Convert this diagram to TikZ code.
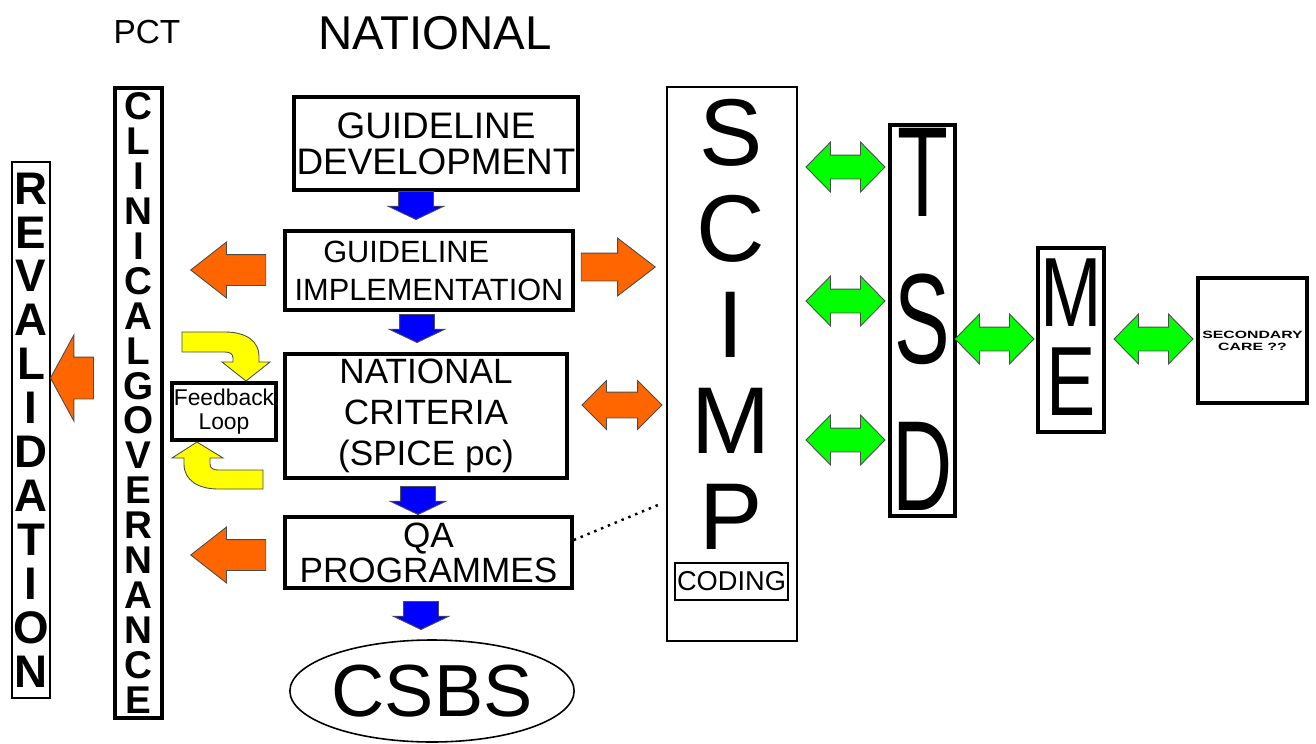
\documentclass[tikz,border=0pt]{standalone}
\usepackage{fontspec}
\setmainfont{Liberation Sans}
\usepackage{graphicx}
\usetikzlibrary{
    shapes.geometric,
    shapes.arrows,
    positioning
}
\def\pxu{0.2mm}
\newcommand{\squeeze}[2]{\scalebox{#1}[1]{#2}}
\definecolor{arrorange}{HTML}{FF6600}
\definecolor{arrgreen}{HTML}{00FF00}
\definecolor{arrblue}{HTML}{0000FF}
\definecolor{arryellow}{HTML}{FFFF00}
\tikzset{
    box/.style={
        rectangle,
        draw=black,
        line width=2pt,
        align=center,
        inner sep=0pt
    },
    letters/.style={
        align=center,
        inner sep=0pt
    },
    blockarrow/.style={
        single arrow,
        draw=black!70,
        line width=0.5pt,
        inner xsep=0pt,
        minimum width=0pt,
        anchor=tip
    },
    dblarrow/.style={
        double arrow,
        draw=black!70,
        line width=0.5pt,
        inner xsep=0pt,
        minimum width=0pt
    },
    bluedown/.style={
        blockarrow,
        fill=arrblue,
        shape border rotate=270,
        minimum height=28*\pxu,
        inner xsep=17*\pxu,
        inner ysep=0pt,
        single arrow head extend=10.5*\pxu,
        single arrow tip angle=129
    },
    orangeleft/.style={
        blockarrow,
        fill=arrorange,
        shape border rotate=180,
        minimum height=75*\pxu,
        inner ysep=15*\pxu,
        single arrow head extend=12.5*\pxu,
        single arrow tip angle=76
    },
    orangedbl/.style={
        dblarrow,
        fill=arrorange,
        minimum height=80*\pxu,
        inner ysep=12.5*\pxu,
        double arrow head extend=11.5*\pxu,
        double arrow tip angle=90
    },
    greendbl/.style={
        dblarrow,
        fill=arrgreen,
        minimum height=79*\pxu,
        inner ysep=11.5*\pxu,
        double arrow head extend=13*\pxu,
        double arrow tip angle=91
    },
    loopbend/.style={
        fill=arryellow,
        draw=black!70,
        line width=0.5pt
    },
    dotline/.style={
        line width=1.4pt,
        dash pattern=on 1.4pt off 2.8pt
    }
}

\begin{document}
\begin{tikzpicture}[x=0.2mm, y=-0.2mm]
\useasboundingbox (0,0) rectangle (1316,744);

\node[font=\fontsize{19}{22}\selectfont] (pct) at (147,32) {PCT};
\node[font=\fontsize{27}{30}\selectfont] (national) at (435,33) {NATIONAL};

\node[box, line width=1.6pt, minimum width=38*\pxu, minimum height=536*\pxu,
      font=\bfseries\fontsize{26}{25}\selectfont] (revalid) at (31,430)
      {R\\E\\V\\A\\L\\I\\D\\A\\T\\I\\O\\N};
\node[box, line width=2.5pt, minimum width=47*\pxu, minimum height=630*\pxu,
      font=\bfseries\fontsize{22}{19.9}\selectfont] (clingov) at (138.5,403)
      {C\\L\\I\\N\\I\\C\\A\\L\\G\\O\\V\\E\\R\\N\\A\\N\\C\\E};

\node[box, minimum width=284*\pxu, minimum height=93*\pxu,
      font=\fontsize{21}{20.5}\selectfont] (gdev) at (436,143.5) {GUIDELINE\\DEVELOPMENT};
\node[box, minimum width=288*\pxu, minimum height=79*\pxu,
      font=\fontsize{17.5}{21.6}\selectfont] (gimpl) at (429,270.5) {GUIDELINE\kern26pt\\IMPLEMENTATION};
\node[box, minimum width=282*\pxu, minimum height=124*\pxu,
      font=\fontsize{20}{23.3}\selectfont] (natcrit) at (426,416) {NATIONAL\\CRITERIA\\(SPICE pc)};
\node[box, minimum width=287*\pxu, minimum height=71*\pxu,
      font=\fontsize{20}{20}\selectfont] (qaprog) at (428.5,552.5) {QA\\PROGRAMMES};
\node[ellipse, draw=black, line width=0.9pt, inner sep=0pt, minimum width=278*\pxu,
      minimum height=102*\pxu, font=\fontsize{42}{46}\selectfont] (csbs) at (432,691) {CSBS};

\node[box, line width=1.8pt, minimum width=104*\pxu, minimum height=57*\pxu,
      font=\fontsize{13}{13.7}\selectfont] (feedback) at (224,411.5) {Feedback\\Loop};

\node[box, line width=1.6pt, minimum width=130*\pxu, minimum height=554*\pxu] (scimp) at (732,364) {};
\node[letters, font=\fontsize{54}{54.6}\selectfont] (scimptxt) at (731,324) {S\\C\\I\\M\\P};
\node[box, line width=1.2pt, minimum width=113*\pxu, minimum height=37*\pxu,
      font=\fontsize{15.5}{18}\selectfont] (coding) at (731.5,581.5) {CODING};

\node[box, line width=2.2pt, minimum width=65*\pxu, minimum height=391*\pxu] (tsd) at (922.5,320.5) {};
\node[letters, font=\fontsize{73}{83.6}\selectfont] (tsdtxt) at (922.5,319)
      {\squeeze{.65}{T}\\\squeeze{.65}{S}\\\squeeze{.65}{D}};
\node[box, line width=1.8pt, minimum width=66*\pxu, minimum height=184*\pxu] (me) at (1071,340) {};
\node[letters, font=\fontsize{56}{51}\selectfont] (metxt) at (1071,337)
      {\squeeze{.75}{M}\\\squeeze{.75}{E}};
\node[box, line width=2.2pt, minimum width=109*\pxu, minimum height=125*\pxu,
      font=\bfseries\fontsize{6}{6.8}\selectfont] (seccare) at (1252.5,340.5)
      {\squeeze{1.5}{SECONDARY}\\\squeeze{1.5}{CARE ??}};

\node[bluedown] (dn1) at (416,220) {};
\node[bluedown] (dn2) at (417,343) {};
\node[bluedown] (dn3) at (418,515) {};
\node[bluedown] (dn4) at (421,630) {};

\node[orangeleft] (ol1) at (190,270) {};
\node[orangeleft] (ol2) at (190,555) {};
\node[blockarrow, fill=arrorange, shape border rotate=180, minimum height=43*\pxu,
      inner ysep=20.5*\pxu, single arrow head extend=22*\pxu,
      single arrow tip angle=123] (orv) at (50,378) {};
\node[blockarrow, fill=arrorange, minimum height=74*\pxu, inner ysep=13.5*\pxu,
      single arrow head extend=15*\pxu, single arrow tip angle=75] (or1) at (656,267) {};
\node[orangedbl] (od1) at (622,405) {};

\node[greendbl] (g1) at (845.5,167) {};
\node[greendbl] (g2) at (845.5,301) {};
\node[greendbl] (g3) at (845.5,440) {};
\node[greendbl] (g4) at (994.5,339) {};
\node[greendbl] (g5) at (1153.5,339) {};

\filldraw[loopbend] (182,332) -- (225,332) .. controls (247,332) and (259,342) .. (259,356)
    -- (259,362) -- (270,362) -- (246,381) -- (222,362) -- (233,362) -- (233,358)
    .. controls (233,354) and (230,352) .. (225,352) -- (182,352) -- cycle;
\filldraw[loopbend] (197,442) -- (223,458) -- (210,458) -- (210,464)
    .. controls (210,468) and (213,470) .. (218,470) -- (263,470) -- (263,489) -- (218,489)
    .. controls (198,489) and (184,480) .. (184,464) -- (184,458) -- (172,458) -- cycle;

\coordinate (dotend) at (658,505);
\draw[dotline] ([yshift=2.5mm]qaprog.east) -- (dotend);

\end{tikzpicture}
\end{document}
